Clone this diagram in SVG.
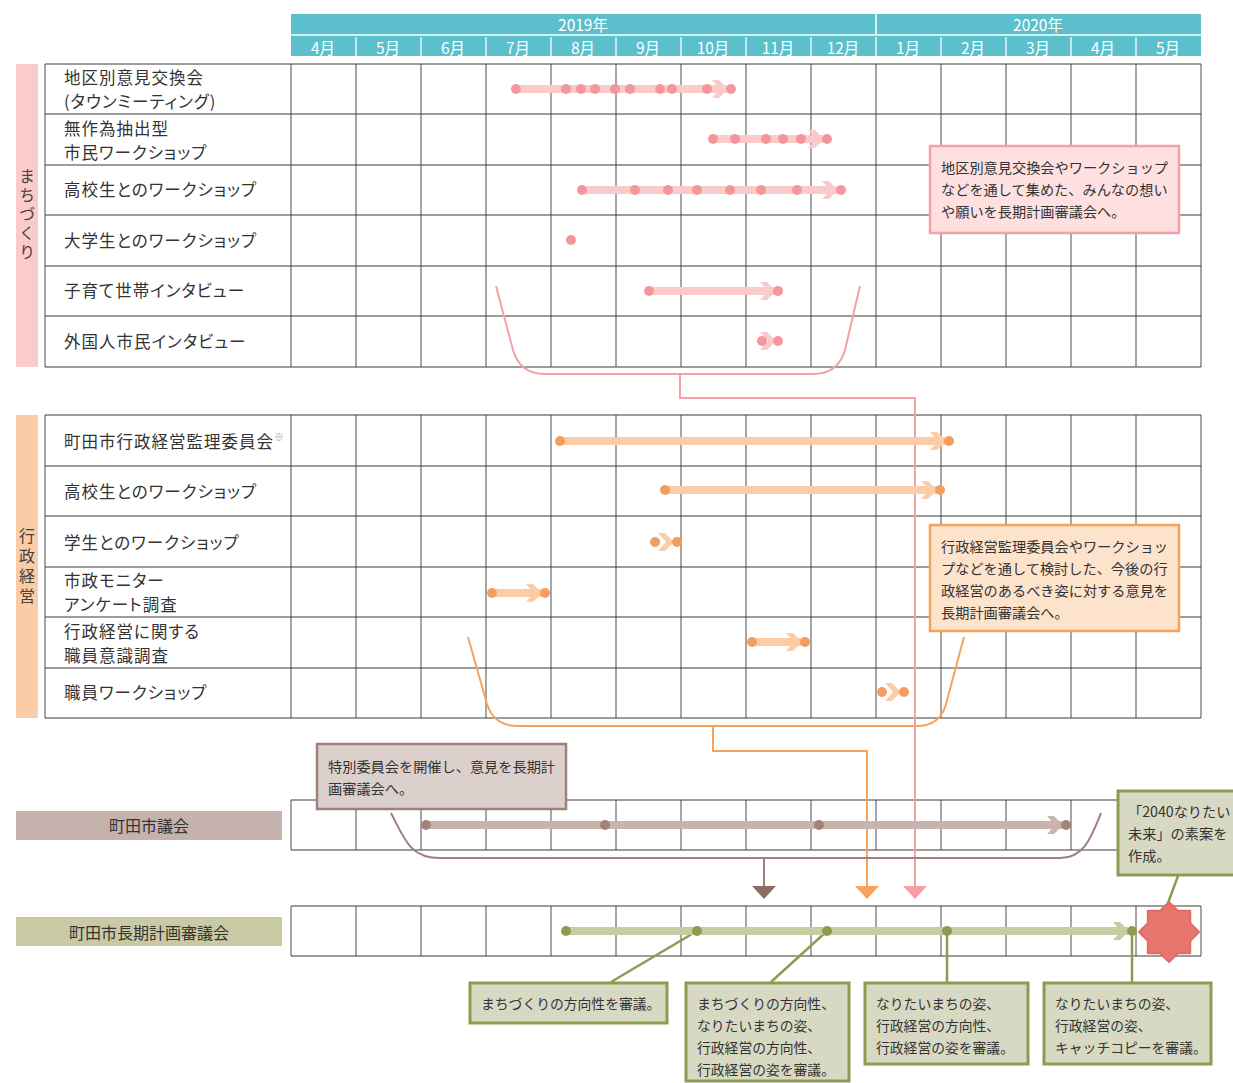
<svg xmlns="http://www.w3.org/2000/svg" width="1233" height="1083" viewBox="0 0 1233 1083">
<defs>
<style>
text{font-family:"Noto Sans CJK JP","Noto Sans",sans-serif;}
.lbl{font-size:16.5px;fill:#333;dominant-baseline:central;font-feature-settings:"palt";letter-spacing:1px;}
.hdr{font-size:15.5px;fill:#fff;text-anchor:middle;dominant-baseline:central;}
.side{font-size:16px;fill:#444;writing-mode:vertical-rl;}
.band{font-size:16px;fill:#333;text-anchor:middle;dominant-baseline:central;}
.note{font-size:13.8px;fill:#333;dominant-baseline:central;}
.cn{font-size:14.2px;fill:#333;dominant-baseline:central;}
.vg{stroke:#808080;stroke-width:1.4;fill:none;}
.hg{stroke:#3a3a3a;stroke-width:1.2;fill:none;}
.pl{stroke:#fbcaca;stroke-width:8;}
.pd{fill:#f4979c;}
.pc{fill:#fbcaca;}
.ol{stroke:#fbcca6;stroke-width:8;}
.od{fill:#f59d5c;}
.oc{fill:#fbcca6;}
.bl{stroke:#c8b4af;stroke-width:8;}
.bd{fill:#a8817a;}
.bc{fill:#c8b4af;}
.gl{stroke:#c9cba2;stroke-width:8;}
.gd{fill:#8e9c52;}
.gc{fill:#c9cba2;}
.gbox{fill:#d8d9c3;stroke:#8e9c52;stroke-width:3;}
</style>
<path id="chev" d="M-15,-9 L-8,-9 L1,0 L-8,9 L-15,9 L-7,0 Z"/>
</defs>
<rect width="1233" height="1083" fill="#fff"/>

<g id="header">
<rect x="291" y="14" width="910" height="42" fill="#5bbfcc"/>
<path d="M291 35H1201M876 14V35" stroke="#fff" stroke-width="1.5"/>
<path d="M356 37V56M421 37V56M486 37V56M551 37V56M616 37V56M681 37V56M746 37V56M811 37V56M876 37V56M941 37V56M1006 37V56M1071 37V56M1136 37V56" stroke="#e6f5f7" stroke-width="1.5"/>
<text class="hdr" x="583" y="23.5">2019年</text>
<text class="hdr" x="1038" y="23.5">2020年</text>
<text class="hdr" x="323" y="46.5">4月</text>
<text class="hdr" x="388" y="46.5">5月</text>
<text class="hdr" x="453" y="46.5">6月</text>
<text class="hdr" x="518" y="46.5">7月</text>
<text class="hdr" x="583" y="46.5">8月</text>
<text class="hdr" x="648" y="46.5">9月</text>
<text class="hdr" x="713" y="46.5">10月</text>
<text class="hdr" x="778" y="46.5">11月</text>
<text class="hdr" x="843" y="46.5">12月</text>
<text class="hdr" x="908" y="46.5">1月</text>
<text class="hdr" x="973" y="46.5">2月</text>
<text class="hdr" x="1038" y="46.5">3月</text>
<text class="hdr" x="1103" y="46.5">4月</text>
<text class="hdr" x="1168" y="46.5">5月</text>
</g>

<g id="section-machizukuri">
<rect x="16" y="64" width="22" height="303" fill="#fbcaca"/>
<text class="side" x="27" y="168" letter-spacing="3">まちづくり</text>
<path class="vg" d="M291 64V367M356 64V367M421 64V367M486 64V367M551 64V367M616 64V367M681 64V367M746 64V367M811 64V367M876 64V367M941 64V367M1006 64V367M1071 64V367M1136 64V367M1201 64V367M45 64V367"/>
<path class="hg" d="M45 64H1201M45 114H1201M45 165H1201M45 215H1201M45 266H1201M45 316H1201M45 367H1201"/>
<text class="lbl" x="64" y="77">地区別意見交換会<tspan x="64" dy="24">(タウンミーティング)</tspan></text>
<text class="lbl" x="64" y="127.5">無作為抽出型<tspan x="64" dy="24">市民ワークショップ</tspan></text>
<text class="lbl" x="64" y="189">高校生とのワークショップ</text>
<text class="lbl" x="64" y="240">大学生とのワークショップ</text>
<text class="lbl" x="64" y="290">子育て世帯インタビュー</text>
<text class="lbl" x="64" y="341">外国人市民インタビュー</text>
</g>

<g id="section-gyosei">
<rect x="16" y="415" width="22" height="303" fill="#fbcca6"/>
<text class="side" x="27" y="528" letter-spacing="4">行政経営</text>
<path class="vg" d="M291 415V718M356 415V718M421 415V718M486 415V718M551 415V718M616 415V718M681 415V718M746 415V718M811 415V718M876 415V718M941 415V718M1006 415V718M1071 415V718M1136 415V718M1201 415V718M45 415V718"/>
<path class="hg" d="M45 415H1201M45 466H1201M45 516H1201M45 567H1201M45 617H1201M45 668H1201M45 718H1201"/>
<text class="lbl" x="64" y="441">町田市行政経営監理委員会<tspan font-size="10" fill="#999" dy="-5">※</tspan></text>
<text class="lbl" x="64" y="491">高校生とのワークショップ</text>
<text class="lbl" x="64" y="542">学生とのワークショップ</text>
<text class="lbl" x="64" y="580">市政モニター<tspan x="64" dy="24">アンケート調査</tspan></text>
<text class="lbl" x="64" y="630.5">行政経営に関する<tspan x="64" dy="24">職員意識調査</tspan></text>
<text class="lbl" x="64" y="692">職員ワークショップ</text>
</g>

<g id="section-gikai">
<rect x="16" y="811" width="266" height="29" fill="#c5b2ad"/>
<text class="band" x="149" y="825">町田市議会</text>
<path class="vg" d="M291 800V850M356 800V850M421 800V850M486 800V850M551 800V850M616 800V850M681 800V850M746 800V850M811 800V850M876 800V850M941 800V850M1006 800V850M1071 800V850M1136 800V850M1201 800V850"/>
<path class="hg" d="M291 800H1201M291 850H1201"/>
</g>

<g id="section-shingikai">
<rect x="16" y="917" width="266" height="29" fill="#c9caa3"/>
<text class="band" x="149" y="932">町田市長期計画審議会</text>
<path class="vg" d="M291 906V956M356 906V956M421 906V956M486 906V956M551 906V956M616 906V956M681 906V956M746 906V956M811 906V956M876 906V956M941 906V956M1006 906V956M1071 906V956M1136 906V956M1201 906V956"/>
<path class="hg" d="M291 906H1201M291 956H1201"/>
</g>

<g id="connectors" fill="none" stroke-width="2">
<path d="M496 286L513 350Q520 374 545 374H813Q838 374 845 350L860 286" stroke="#f4a0a6"/>
<path d="M680 374V398H915V887" stroke="#f4a0a6"/>
<path d="M903 886H927L915 899Z" fill="#f4a0a6" stroke="none"/>
<path d="M468 637L487 704Q494 726 518 726H917Q940 726 946 704L964 637" stroke="#f7a35c"/>
<path d="M713 726V751H867V887" stroke="#f7a35c"/>
<path d="M855 886H879L867 899Z" fill="#f7a35c" stroke="none"/>
<path d="M391 813C405 840 410 858 440 858H1060C1085 858 1092 835 1101 813" stroke="#a0807a"/>
<path d="M764 858V887" stroke="#a0807a"/>
<path d="M752 886H776L764 899Z" fill="#8c6e68" stroke="none"/>
<path d="M697 931L611 982M827 931L771 982M947 931V982M1132 931V982M1178 876L1168 903" stroke="#8e9c52" stroke-width="2.5"/>
</g>

<g id="bars-machizukuri">
<line class="pl" x1="516" y1="89" x2="727" y2="89"/>
<use href="#chev" class="pc" x="727" y="89"/>
<circle class="pd" cx="516" cy="89" r="5"/><circle class="pd" cx="566" cy="89" r="5"/><circle class="pd" cx="581" cy="89" r="5"/><circle class="pd" cx="595" cy="89" r="5"/><circle class="pd" cx="615" cy="89" r="5"/><circle class="pd" cx="630" cy="89" r="5"/><circle class="pd" cx="660" cy="89" r="5"/><circle class="pd" cx="672" cy="89" r="5"/><circle class="pd" cx="707" cy="89" r="5"/><circle class="pd" cx="731" cy="89" r="5"/>
<line class="pl" x1="713" y1="139" x2="823" y2="139"/>
<use href="#chev" class="pc" x="823" y="139"/>
<circle class="pd" cx="713" cy="139" r="5"/><circle class="pd" cx="735" cy="139" r="5"/><circle class="pd" cx="766" cy="139" r="5"/><circle class="pd" cx="783" cy="139" r="5"/><circle class="pd" cx="801" cy="139" r="5"/><circle class="pd" cx="827" cy="139" r="5"/>
<line class="pl" x1="582" y1="190" x2="837" y2="190"/>
<use href="#chev" class="pc" x="837" y="190"/>
<circle class="pd" cx="582" cy="190" r="5"/><circle class="pd" cx="635" cy="190" r="5"/><circle class="pd" cx="668" cy="190" r="5"/><circle class="pd" cx="697" cy="190" r="5"/><circle class="pd" cx="730" cy="190" r="5"/><circle class="pd" cx="761" cy="190" r="5"/><circle class="pd" cx="797" cy="190" r="5"/><circle class="pd" cx="841" cy="190" r="5"/>
<circle class="pd" cx="571" cy="240" r="5"/>
<line class="pl" x1="649" y1="291" x2="775" y2="291"/>
<use href="#chev" class="pc" x="775" y="291"/>
<circle class="pd" cx="649" cy="291" r="5"/><circle class="pd" cx="778" cy="291" r="5"/>
<use href="#chev" class="pc" x="775" y="341"/>
<circle class="pd" cx="762" cy="341" r="5"/><circle class="pd" cx="778" cy="341" r="5"/>
</g>

<g id="bars-gyosei">
<line class="ol" x1="560" y1="441" x2="945" y2="441"/>
<use href="#chev" class="oc" x="945" y="441"/>
<circle class="od" cx="560" cy="441" r="5"/><circle class="od" cx="949" cy="441" r="5"/>
<line class="ol" x1="665" y1="490" x2="936" y2="490"/>
<use href="#chev" class="oc" x="936" y="490"/>
<circle class="od" cx="665" cy="490" r="5"/><circle class="od" cx="940" cy="490" r="5"/>
<use href="#chev" class="oc" x="673" y="542"/>
<circle class="od" cx="655" cy="542" r="5"/><circle class="od" cx="677" cy="542" r="5"/>
<line class="ol" x1="492" y1="593" x2="541" y2="593"/>
<use href="#chev" class="oc" x="541" y="593"/>
<circle class="od" cx="492" cy="593" r="5"/><circle class="od" cx="545" cy="593" r="5"/>
<line class="ol" x1="752" y1="642" x2="801" y2="642"/>
<use href="#chev" class="oc" x="801" y="642"/>
<circle class="od" cx="752" cy="642" r="5"/><circle class="od" cx="805" cy="642" r="5"/>
<use href="#chev" class="oc" x="900" y="692"/>
<circle class="od" cx="882" cy="692" r="5"/><circle class="od" cx="904" cy="692" r="5"/>
</g>

<g id="bars-gikai">
<line class="bl" x1="426" y1="825" x2="1062" y2="825"/>
<use href="#chev" class="bc" x="1062" y="825"/>
<circle class="bd" cx="426" cy="825" r="5"/><circle class="bd" cx="605" cy="825" r="5"/><circle class="bd" cx="819" cy="825" r="5"/><circle class="bd" cx="1066" cy="825" r="5"/>
</g>

<g id="bars-shingikai">
<line class="gl" x1="566" y1="931" x2="1128" y2="931"/>
<use href="#chev" class="gc" x="1128" y="931"/>
<circle class="gd" cx="566" cy="931" r="5"/><circle class="gd" cx="697" cy="931" r="5"/><circle class="gd" cx="827" cy="931" r="5"/><circle class="gd" cx="947" cy="931" r="5"/><circle class="gd" cx="1132" cy="931" r="5"/>
</g>

<g id="star">
<path d="M1169 902L1177.8 910.8L1190.2 910.8L1190.3 923.2L1199 932L1190.3 940.8L1190.2 953.2L1177.8 953.3L1169 962L1160.2 953.3L1147.8 953.2L1147.8 940.8L1139 932L1147.8 923.2L1147.8 910.8L1160.2 910.8Z" fill="#e8766f" stroke="#e36a66" stroke-width="2" stroke-linejoin="round"/>
</g>

<g id="callout-pink">
<rect x="930" y="146" width="249" height="87" fill="#fde0df" stroke="#f4a0a6" stroke-width="2.5"/>
<text class="cn" x="941" y="167">地区別意見交換会やワークショップ</text>
<text class="cn" x="941" y="189">などを通して集めた、みんなの想い</text>
<text class="cn" x="941" y="211">や願いを長期計画審議会へ。</text>
</g>

<g id="callout-orange">
<rect x="930" y="525" width="249" height="106" fill="#fde2cc" stroke="#f7a35c" stroke-width="2.5"/>
<text class="cn" x="941" y="546">行政経営監理委員会やワークショッ</text>
<text class="cn" x="941" y="568">プなどを通して検討した、今後の行</text>
<text class="cn" x="941" y="590">政経営のあるべき姿に対する意見を</text>
<text class="cn" x="941" y="612">長期計画審議会へ。</text>
</g>

<g id="callout-brown">
<rect x="317" y="744" width="249" height="65" fill="#dcd0cd" stroke="#a0807a" stroke-width="2.5"/>
<text class="cn" x="328" y="766">特別委員会を開催し、意見を長期計</text>
<text class="cn" x="328" y="788">画審議会へ。</text>
</g>

<g id="callout-2040">
<rect x="1118" y="791" width="125" height="84" class="gbox"/>
<text class="cn" x="1128" y="811">「2040なりたい</text>
<text class="cn" x="1128" y="833">未来」の素案を</text>
<text class="cn" x="1128" y="855">作成。</text>
</g>

<g id="box1">
<rect x="470" y="983" width="197" height="40" class="gbox"/>
<text class="note" x="481" y="1003">まちづくりの方向性を審議。</text>
</g>
<g id="box2">
<rect x="686" y="983" width="163" height="98" class="gbox"/>
<text class="note" x="697" y="1003">まちづくりの方向性、</text>
<text class="note" x="697" y="1025">なりたいまちの姿、</text>
<text class="note" x="697" y="1047">行政経営の方向性、</text>
<text class="note" x="697" y="1069">行政経営の姿を審議。</text>
</g>
<g id="box3">
<rect x="865" y="983" width="163" height="81" class="gbox"/>
<text class="note" x="876" y="1003">なりたいまちの姿、</text>
<text class="note" x="876" y="1025">行政経営の方向性、</text>
<text class="note" x="876" y="1047">行政経営の姿を審議。</text>
</g>
<g id="box4">
<rect x="1044" y="983" width="167" height="81" class="gbox"/>
<text class="note" x="1055" y="1003">なりたいまちの姿、</text>
<text class="note" x="1055" y="1025">行政経営の姿、</text>
<text class="note" x="1055" y="1047">キャッチコピーを審議。</text>
</g>
</svg>
